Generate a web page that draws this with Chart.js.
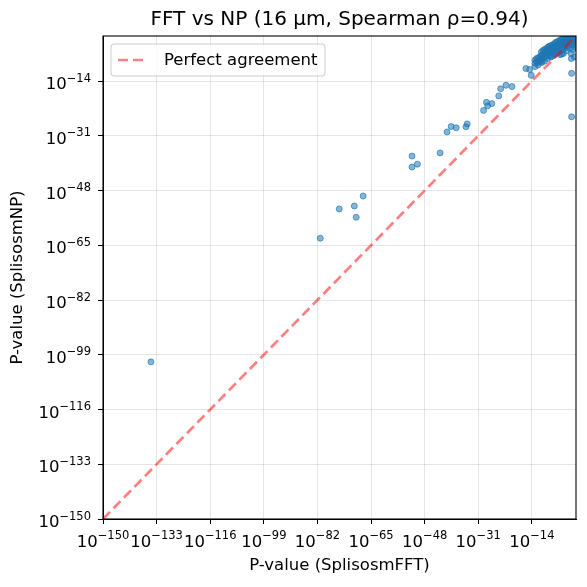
<!DOCTYPE html>
<html lang="en">
<head>
  <meta charset="UTF-8">
  <title>FFT vs NP</title>
  <script src="https://cdn.jsdelivr.net/npm/chart.js"></script>
  <style>
    body { margin: 0; background: #fff; }
    #wrap { width: 587px; height: 587px; }
  </style>
</head>
<body>
  <div id="wrap"><canvas id="grafico" width="587" height="587"></canvas></div>

  <script>
    const chartTitle = 'FFT vs NP (16 μm, Spearman ρ=0.94)';
    const xTitle = 'P-value (SplisosmFFT)';
    const yTitle = 'P-value (SplisosmNP)';
    const lineLabel = 'Perfect agreement';

    // tick exponents (powers of ten) and their labels: base + superscript
    const tickExps = [-150, -133, -116, -99, -82, -65, -48, -31, -14];
    const tickBase = '10';
    const tickSup = ['−150', '−133', '−116', '−99', '−82', '−65', '−48', '−31', '−14'];
    const axisMinExp = -150;
    const axisMaxExp = 0;

    // log10 of p-values: FFT (x) and NP (y)
    const fftExp = [
      -134.8, -81.1, -75.1, -70.3, -69.7, -67.5, -52, -52, -50.3, -43.1,
      -40.9, -39.6, -38, -34.9, -34.5, -29.3, -28.4, -28, -26.7, -24.5,
      -23.9, -22.2, -20.3, -15.9, -14.7, -14.2, -1.4, -1.4,
      -13, -13, -13, -12.5, -12.5, -12, -12, -12, -11.5, -11.5,
      -11, -11, -11, -11, -10.8, -10.5, -10.5, -10.5, -10, -10, -10, -10,
      -9.5, -9.5, -9.5, -9, -9, -9, -9, -8.5, -8.5, -8.5,
      -8, -8, -8, -8, -7.7, -7.5, -7.5, -7.5, -7, -7, -7, -7,
      -6.5, -6.5, -6.5, -6.5, -6, -6, -6, -6, -5.5, -5.5, -5.5, -5.5,
      -5, -5, -5, -5, -5, -4.5, -4.5, -4.5, -4.5, -4.5, -4, -4, -4, -4, -4,
      -3.5, -3.5, -3.5, -3.5, -3, -3, -3, -3, -3, -2.5, -2.5, -2.5, -2.5,
      -2, -2, -2, -2, -2, -1.5, -1.5, -1.5, -1.5, -1.5, -1.5,
      -1, -1, -1, -1, -1, -1, -0.5, -0.5, -0.5, -0.5, -0.5, -0.5,
      -0.2, -0.2, -0.2, -0.2
    ];
    const npExp = [
      -101.2, -62.8, -53.7, -52.8, -56.3, -49.7, -37.3, -40.7, -39.8, -36.3,
      -29.8, -28.1, -28.5, -28.2, -27.3, -23.1, -20.6, -21.7, -21, -18.6,
      -16.4, -15.3, -15.7, -10.1, -10.4, -12.2, -11.6, -25.1,
      -8.5, -7.5, -9.5, -8, -7, -6.8, -8.2, -9, -6.5, -7.6,
      -5, -6, -7.2, -8, -8.2, -4.5, -5.8, -7, -4.2, -5.5, -6.5, -7.8,
      -4, -5, -6.2, -3.5, -4.5, -5.5, -7, -3.2, -4.2, -6,
      -3, -4, -5, -6.5, -6.3, -2.8, -3.8, -5.2, -2.5, -3.5, -4.6, -6,
      -2, -3.2, -4.2, -5.5, -1.8, -3, -4, -5.2, -1.6, -2.6, -3.6, -5,
      -1.2, -2.2, -3.4, -4.6, -5.8, -1, -2, -3, -4.4, -5.6, -0.8, -1.8, -2.8, -4, -5.4,
      -0.6, -1.5, -2.5, -3.6, -0.5, -1.2, -2.2, -3.2, -4.6, -0.3, -1, -2, -3,
      -0.2, -0.8, -1.6, -2.6, -3.8, -0.1, -0.6, -1.2, -2.2, -5.5, -7,
      -0.1, -0.4, -1, -1.8, -2.8, -4.2, 0, -0.3, -0.8, -1.5, -2.5, -6.5,
      -0.1, -0.5, -1.2, -3.5
    ];

    const puntos = fftExp.map((e, i) => ({ x: Math.pow(10, e), y: Math.pow(10, npExp[i]) }));
    const diagonal = [
      { x: Math.pow(10, axisMinExp), y: Math.pow(10, axisMinExp) },
      { x: Math.pow(10, axisMaxExp), y: Math.pow(10, axisMaxExp) }
    ];

    const fuente = "'DejaVu Sans', sans-serif";
    const lineColor = 'rgba(255, 0, 0, 0.5)';
    const fBase = '16.5px ' + fuente;
    const fSup = '11.5px ' + fuente;

    // "10" with raised exponent, like matplotlib mathtext
    function etiqueta(ctx, i, x, baseline, align) {
      ctx.font = fBase;
      const wb = ctx.measureText(tickBase).width;
      ctx.font = fSup;
      const ws = ctx.measureText(tickSup[i]).width;
      const total = wb + ws;
      const left = align === 'center' ? x - total / 2 : x - total;
      ctx.font = fBase;
      ctx.fillText(tickBase, left, baseline);
      ctx.font = fSup;
      ctx.fillText(tickSup[i], left + wb, baseline - 7.5);
    }

    // title, frame, tick labels and legend drawn in matplotlib style
    const decoracion = {
      id: 'decoracion',
      afterDraw(chart) {
        const { ctx, chartArea: a } = chart;
        const sx = chart.scales.x, sy = chart.scales.y;
        ctx.save();
        ctx.strokeStyle = '#000';
        ctx.lineWidth = 1.1;
        ctx.strokeRect(a.left, a.top, a.right - a.left, a.bottom - a.top);

        ctx.fillStyle = '#000';
        ctx.textAlign = 'left';
        ctx.textBaseline = 'alphabetic';
        tickExps.forEach((e, i) => {
          const v = Math.pow(10, e);
          etiqueta(ctx, i, sx.getPixelForValue(v), a.bottom + 27.5, 'center');
          etiqueta(ctx, i, a.left - 12, sy.getPixelForValue(v) + 8, 'right');
        });

        ctx.font = '20px ' + fuente;
        ctx.textAlign = 'center';
        ctx.textBaseline = 'middle';
        ctx.fillText(chartTitle, (a.left + a.right) / 2, 20);

        // legend box
        const bx = a.left + 8, by = a.top + 8, bw = 214, bh = 32;
        ctx.beginPath();
        ctx.roundRect(bx, by, bw, bh, 3);
        ctx.fillStyle = 'rgba(255,255,255,0.8)';
        ctx.fill();
        ctx.strokeStyle = '#cccccc';
        ctx.lineWidth = 1;
        ctx.stroke();
        ctx.beginPath();
        ctx.setLineDash([10, 5]);
        ctx.strokeStyle = lineColor;
        ctx.lineWidth = 2.7;
        ctx.moveTo(bx + 7, by + bh / 2);
        ctx.lineTo(bx + 37, by + bh / 2);
        ctx.stroke();
        ctx.setLineDash([]);
        ctx.fillStyle = '#000';
        ctx.font = '16.5px ' + fuente;
        ctx.textAlign = 'left';
        ctx.fillText(lineLabel, bx + 53, by + bh / 2 + 0.5);
        ctx.restore();
      }
    };

    const setTicks = scale => {
      scale.ticks = tickExps.map(e => ({ value: Math.pow(10, e) }));
    };

    const ctx = document.getElementById('grafico').getContext('2d');
    const chart = new Chart(ctx, {
      data: {
        datasets: [
          {
            type: 'scatter',
            label: 'p-values',
            data: puntos,
            backgroundColor: 'rgba(31, 119, 180, 0.55)',
            borderColor: 'rgba(31, 119, 180, 0.65)',
            borderWidth: 1,
            pointRadius: 3,
            order: 2
          },
          {
            type: 'line',
            label: lineLabel,
            data: diagonal,
            borderColor: lineColor,
            borderWidth: 2.7,
            borderDash: [10, 5],
            pointRadius: 0,
            fill: false,
            order: 1
          }
        ]
      },
      options: {
        responsive: false,
        animation: false,
        layout: { padding: { top: 36, right: 11, left: 0, bottom: 0 } },
        plugins: {
          legend: { display: false },
          title: { display: false },
          tooltip: { enabled: false }
        },
        scales: {
          x: {
            type: 'logarithmic',
            min: Math.pow(10, axisMinExp),
            max: Math.pow(10, axisMaxExp),
            afterBuildTicks: setTicks,
            afterFit: s => { s.height = 68; },
            grid: { color: 'rgba(0,0,0,0.1)', tickColor: '#000', tickLength: 5 },
            border: { color: '#000', width: 1 },
            ticks: { display: false, autoSkip: false },
            title: {
              display: true, text: xTitle, color: '#000',
              font: { family: fuente, size: 16.5 },
              padding: { top: 4, bottom: 11 }
            }
          },
          y: {
            type: 'logarithmic',
            min: Math.pow(10, axisMinExp),
            max: Math.pow(10, axisMaxExp),
            afterBuildTicks: setTicks,
            afterFit: s => { s.width = 103; },
            grid: { color: 'rgba(0,0,0,0.1)', tickColor: '#000', tickLength: 5 },
            border: { color: '#000', width: 1 },
            ticks: { display: false, autoSkip: false },
            title: {
              display: true, text: yTitle, color: '#000',
              font: { family: fuente, size: 16.5 },
              padding: { top: 8, bottom: 8 }
            }
          }
        }
      },
      plugins: [decoracion]
    });
  </script>
</body>
</html>
